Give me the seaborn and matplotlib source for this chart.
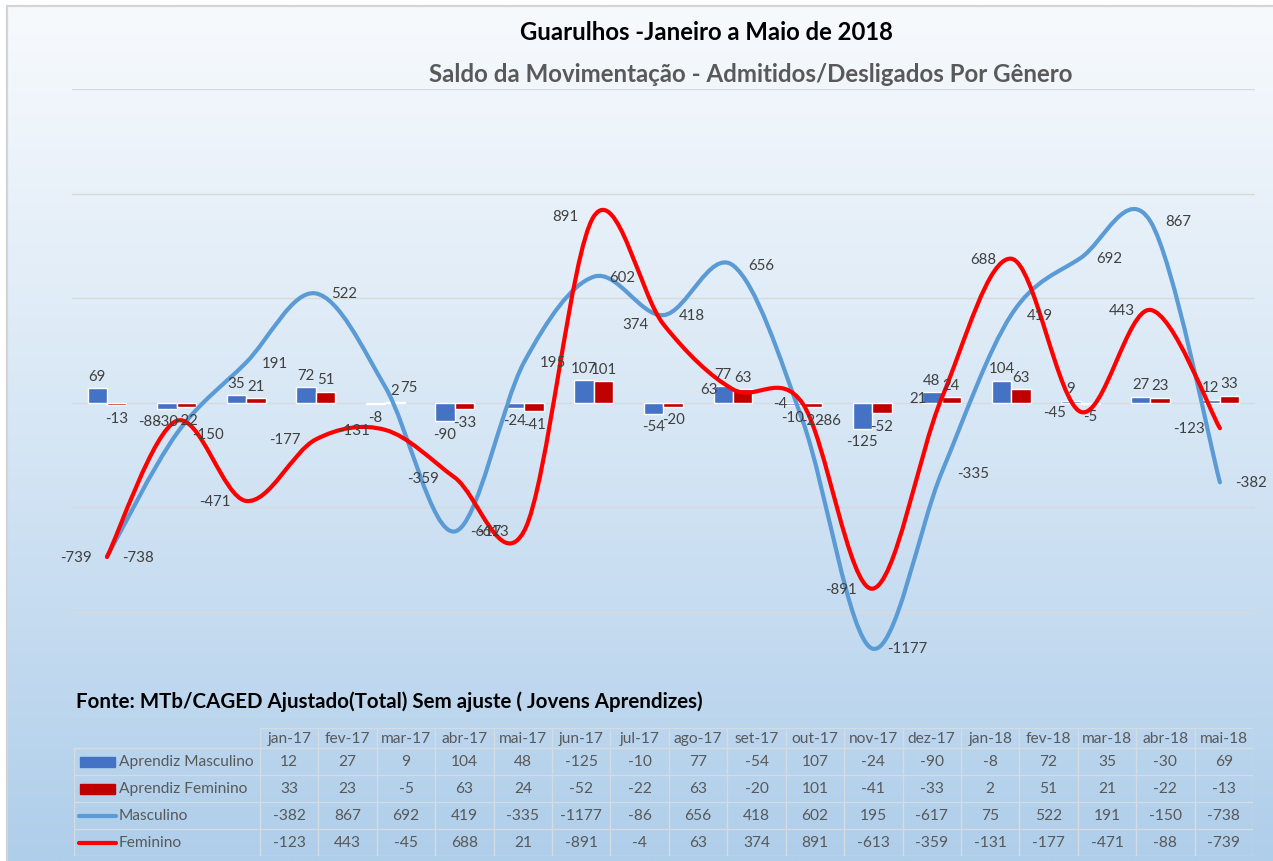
import numpy as np
import pandas as pd
import matplotlib
matplotlib.use('Agg')
import matplotlib.pyplot as plt
from matplotlib.path import Path
from matplotlib.patches import PathPatch, Rectangle
import seaborn as sns

# dados (ordem da tabela)
meses = ['jan-17', 'fev-17', 'mar-17', 'abr-17', 'mai-17', 'jun-17', 'jul-17', 'ago-17', 'set-17',
         'out-17', 'nov-17', 'dez-17', 'jan-18', 'fev-18', 'mar-18', 'abr-18', 'mai-18']
aprendiz_masc = [12, 27, 9, 104, 48, -125, -10, 77, -54, 107, -24, -90, -8, 72, 35, -30, 69]
aprendiz_fem = [33, 23, -5, 63, 24, -52, -22, 63, -20, 101, -41, -33, 2, 51, 21, -22, -13]
masculino = [-382, 867, 692, 419, -335, -1177, -86, 656, 418, 602, 195, -617, 75, 522, 191, -150, -738]
feminino = [-123, 443, -45, 688, 21, -891, -4, 63, 374, 891, -613, -359, -131, -177, -471, -88, -739]

titulo = 'Guarulhos -Janeiro a Maio de 2018'
subtitulo = 'Saldo da Movimentação - Admitidos/Desligados Por Gênero'
fonte = 'Fonte: MTb/CAGED Ajustado(Total) Sem ajuste ( Jovens Aprendizes)'

# o grafico mostra os meses em ordem inversa
ordem = meses[::-1]

cor_am = '#4472C4'
cor_af = '#C00000'
cor_m = '#5B9BD5'
cor_f = '#FF0000'

sns.set_style('white')
plt.rcParams['font.family'] = ['Lato', 'DejaVu Sans']

W, H = 1273, 862
fig = plt.figure(figsize=(W / 100, H / 100), dpi=100)

# fundo com degrade
bg = fig.add_axes([0, 0, 1, 1], zorder=-10)
c_top = np.array([247, 250, 253]) / 255
c_mid = np.array([214, 230, 245]) / 255
c_bot = np.array([175, 206, 234]) / 255
img = np.zeros((400, 1, 3))
for k in range(400):
    f = k / 399
    if f < 0.5:
        img[k, 0] = c_top + (c_mid - c_top) * f / 0.5
    else:
        img[k, 0] = c_mid + (c_bot - c_mid) * (f - 0.5) / 0.5
bg.imshow(img, aspect='auto', extent=[8, W, H, 8])
bg.set_xlim(0, W)
bg.set_ylim(H, 0)
bg.plot([7, 7], [7, H], color='#D4D4D4', lw=1.6)
bg.plot([7, W], [7, 7], color='#D4D4D4', lw=1.6)
bg.axis('off')

# area do grafico
ax = fig.add_axes([72.2 / W, 1 - 717 / H, (1254.7 - 72.2) / W, (717 - 90) / H])
ax.set_facecolor('none')

df = pd.DataFrame({
    'mes': meses * 2,
    'serie': ['Aprendiz Masculino'] * len(meses) + ['Aprendiz Feminino'] * len(meses),
    'valor': aprendiz_masc + aprendiz_fem,
})
sns.barplot(data=df, x='mes', y='valor', hue='serie', order=ordem,
            hue_order=['Aprendiz Masculino', 'Aprendiz Feminino'],
            palette={'Aprendiz Masculino': cor_am, 'Aprendiz Feminino': cor_af},
            width=0.56, gap=0, errorbar=None, legend=False, saturation=1, ax=ax, zorder=2)

for cont in ax.containers:
    ax.bar_label(cont, padding=4, fontsize=10.8, color='#404040', zorder=6)


def curva(x, y):
    # linha suavizada (bezier tipo Catmull-Rom, como no Excel)
    px = np.concatenate([[x[0]], x, [x[-1]]]).astype(float)
    py = np.concatenate([[y[0]], y, [y[-1]]]).astype(float)
    verts = [(px[1], py[1])]
    codes = [Path.MOVETO]
    for i in range(len(x) - 1):
        c1 = (px[i + 1] + (px[i + 2] - px[i]) / 6, py[i + 1] + (py[i + 2] - py[i]) / 6)
        c2 = (px[i + 2] - (px[i + 3] - px[i + 1]) / 6, py[i + 2] - (py[i + 3] - py[i + 1]) / 6)
        verts += [c1, c2, (px[i + 2], py[i + 2])]
        codes += [Path.CURVE4] * 3
    return Path(verts, codes)


xs = np.arange(len(ordem))
m_plot = masculino[::-1]
f_plot = feminino[::-1]
ax.add_patch(PathPatch(curva(xs, m_plot), fill=False, edgecolor=cor_m, lw=3, zorder=4,
                       capstyle='round', joinstyle='round'))
ax.add_patch(PathPatch(curva(xs, f_plot), fill=False, edgecolor=cor_f, lw=3, zorder=5,
                       capstyle='round', joinstyle='round'))

for x, v in zip(xs, m_plot):
    ax.annotate(str(v), (x, v), xytext=(11, 0), textcoords='offset points',
                ha='left', va='center', fontsize=10.8, color='#404040', zorder=7)
for x, v in zip(xs, f_plot):
    ax.annotate(str(v), (x, v), xytext=(-11, 0), textcoords='offset points',
                ha='right', va='center', fontsize=10.8, color='#404040', zorder=7)

ax.set_xlim(-0.5, len(ordem) - 0.5)
ax.set_ylim(-1500, 1500)
ax.set_yticks(np.arange(-1500, 1501, 500))
ax.grid(axis='y', color='#D9D9D9', lw=1, zorder=0)
ax.set_axisbelow(True)
ax.tick_params(left=False, bottom=False, labelleft=False, labelbottom=False)
ax.set_xlabel('')
ax.set_ylabel('')
sns.despine(ax=ax, left=True, bottom=True)

# titulos
fig.text(706 / W, 1 - 33 / H, titulo, ha='center', va='center', fontsize=17.2,
         fontweight='bold', color='black')
fig.text(751 / W, 1 - 75 / H, subtitulo, ha='center', va='center', fontsize=17.3,
         fontweight='bold', color='#595959')
fig.text(76 / W, 1 - 702 / H, fonte, ha='left', va='center', fontsize=14.8,
         fontweight='bold', color='black')

# tabela de dados
x0, x1, y0, y1 = 74, 1253, 729, 857
tab = fig.add_axes([x0 / W, 1 - y1 / H, (x1 - x0) / W, (y1 - y0) / H])
tab.set_xlim(0, x1 - x0)
tab.set_ylim(y1 - y0, 0)
tab.axis('off')
lc = '#D3DBE3'
col0 = 186
cw = (x1 - x0 - col0) / len(meses)
hh = 20
rh = 27
tab.plot([col0, x1 - x0], [0, 0], color=lc, lw=1)
for r in range(5):
    yy = hh + r * rh
    tab.plot([0, x1 - x0], [yy, yy], color=lc, lw=1)
tab.plot([0, 0], [hh, hh + 4 * rh], color=lc, lw=1)
for k in range(len(meses) + 1):
    tab.plot([col0 + k * cw] * 2, [0, hh + 4 * rh], color=lc, lw=1)

for k, m in enumerate(meses):
    tab.text(col0 + (k + 0.5) * cw, hh / 2, m, ha='center', va='center', fontsize=11.2, color='#595959')

linhas = [('Aprendiz Masculino', aprendiz_masc, cor_am, 'bar'),
          ('Aprendiz Feminino', aprendiz_fem, cor_af, 'bar'),
          ('Masculino', masculino, cor_m, 'line'),
          ('Feminino', feminino, cor_f, 'line')]
for r, (nome, vals, cor, tipo) in enumerate(linhas):
    yc = hh + (r + 0.5) * rh
    if tipo == 'bar':
        tab.add_patch(Rectangle((6, yc - 5), 35, 10, color=cor, clip_on=False))
    else:
        tab.plot([5, 42], [yc, yc], color=cor, lw=3, solid_capstyle='round', clip_on=False)
    tab.text(45, yc, nome, ha='left', va='center', fontsize=11.2, color='#595959')
    for k, v in enumerate(vals):
        tab.text(col0 + (k + 0.5) * cw, yc, str(v), ha='center', va='center',
                 fontsize=11.2, color='#595959')

fig.savefig('out.png', dpi=100)
